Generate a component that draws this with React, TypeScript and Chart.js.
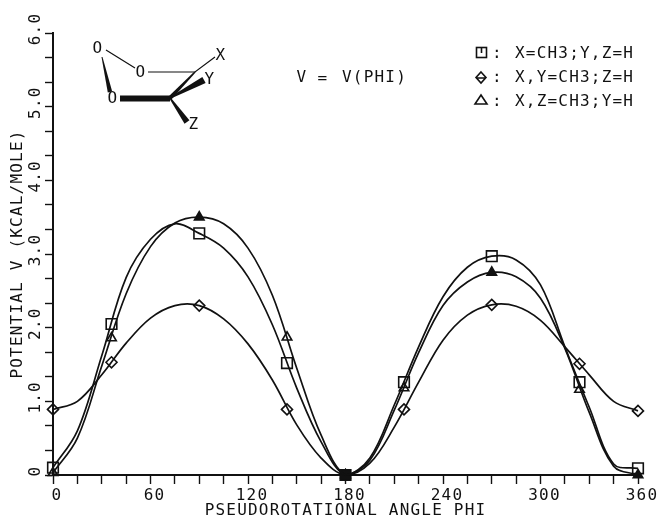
import React, { useEffect, useRef } from "react";
import { Chart, registerables } from "chart.js";

Chart.register(...registerables);

const curveAngles = [0, 15, 30, 45, 60, 75, 90, 105, 120, 135, 150, 165, 180, 195, 210, 225, 240, 255, 270, 285, 300, 315, 330, 345, 360];
const squareCurve = [0.1, 0.6, 1.62, 2.68, 3.2, 3.41, 3.28, 3.08, 2.69, 2.04, 1.18, 0.45, 0, 0.23, 0.95, 1.74, 2.42, 2.82, 2.97, 2.92, 2.58, 1.74, 0.92, 0.15, 0.09];
const diamondCurve = [0.89, 1.0, 1.36, 1.79, 2.13, 2.3, 2.3, 2.12, 1.78, 1.29, 0.68, 0.23, 0, 0.16, 0.65, 1.26, 1.83, 2.17, 2.31, 2.29, 2.1, 1.74, 1.36, 1.0, 0.87];
const triangleCurve = [0.03, 0.5, 1.48, 2.46, 3.1, 3.42, 3.5, 3.41, 3.08, 2.44, 1.45, 0.54, 0, 0.2, 0.88, 1.66, 2.3, 2.62, 2.75, 2.69, 2.4, 1.72, 0.85, 0.12, 0];

const markerAngles = [0, 36, 90, 144, 180, 216, 270, 324, 360];
const squareMarks = [0.1, 2.05, 3.28, 1.52, 0, 1.26, 2.97, 1.26, 0.09];
const diamondMarks = [0.89, 1.53, 2.3, 0.89, 0, 0.89, 2.31, 1.51, 0.87];
const triangleMarks = [0.03, 1.86, 3.5, 1.87, 0, 1.18, 2.75, 1.16, 0];

const xTicks = [0, 15, 30, 45, 60, 75, 90, 105, 120, 135, 150, 165, 180, 195, 210, 225, 240, 255, 270, 285, 300, 315, 330, 345, 360];
const xTickLabels: Record<number, string> = { 0: "0", 60: "60", 120: "120", 180: "180", 240: "240", 300: "300", 360: "360" };
const yTicks = [0, 0.3333, 0.6667, 1, 1.3333, 1.6667, 2, 2.3333, 2.6667, 3, 3.3333, 3.6667, 4, 4.3333, 4.6667, 5, 5.3333, 5.6667, 6];
const yTickLabels: Record<number, string> = { 0: "0", 1: "1.0", 2: "2.0", 3: "3.0", 4: "4.0", 5: "5.0", 6: "6.0" };

const xTitle = "PSEUDOROTATIONAL ANGLE PHI";
const yTitle = "POTENTIAL V (KCAL/MOLE)";
const equation = ["V", "=", "V(PHI)"];
const legendLabels = ["X=CH3;Y,Z=H", "X,Y=CH3;Z=H", "X,Z=CH3;Y=H"];
const atomLabels = ["O", "O", "O", "X", "Y", "Z"];

const FONT = '"DejaVu Sans Mono", "Liberation Mono", monospace';
const INK = "#111";

function pairs(xs: number[], ys: number[]) {
  return xs.map((x, i) => ({ x, y: ys[i] }));
}

function wedge(ctx: CanvasRenderingContext2D, x1: number, y1: number, x2: number, y2: number, w1: number, w2: number) {
  const dx = x2 - x1, dy = y2 - y1, len = Math.hypot(dx, dy);
  const nx = -dy / len, ny = dx / len;
  ctx.beginPath();
  ctx.moveTo(x1 + nx * w1 / 2, y1 + ny * w1 / 2);
  ctx.lineTo(x2 + nx * w2 / 2, y2 + ny * w2 / 2);
  ctx.lineTo(x2 - nx * w2 / 2, y2 - ny * w2 / 2);
  ctx.lineTo(x1 - nx * w1 / 2, y1 - ny * w1 / 2);
  ctx.closePath();
  ctx.fill();
}

const annotations = {
  id: "annotations",
  beforeDraw(chart: Chart) {
    (chart.ctx as any).letterSpacing = "1.2px";
  },
  afterDraw(chart: Chart) {
    const ctx = chart.ctx;
    ctx.save();
    ctx.fillStyle = INK;
    ctx.strokeStyle = INK;
    ctx.textAlign = "center";
    ctx.textBaseline = "middle";
    ctx.font = `16px ${FONT}`;

    // molecule sketch
    const atomPos = [[98, 49], [141, 73], [113, 99], [221, 56], [210, 80], [194, 125]];
    atomLabels.forEach((t, i) => ctx.fillText(t, atomPos[i][0], atomPos[i][1]));
    ctx.lineWidth = 1.2;
    ctx.beginPath();
    ctx.moveTo(106, 50); ctx.lineTo(135, 68);
    ctx.moveTo(148, 72); ctx.lineTo(195, 72);
    ctx.lineTo(215, 57);
    ctx.stroke();
    wedge(ctx, 102, 57, 110, 92, 1, 4.5);
    wedge(ctx, 120, 98.5, 170, 98.5, 6, 6);
    wedge(ctx, 195, 72, 170, 98, 1.5, 4);
    wedge(ctx, 170, 98, 204, 80, 1.5, 7);
    wedge(ctx, 170, 98, 187, 122, 1.5, 6);

    // equation
    ctx.fillText(equation[0], 302, 78);
    ctx.fillText(equation[1], 323, 79);
    ctx.textAlign = "left";
    ctx.fillText(equation[2], 342, 78);

    // legend
    const rows = [54, 78, 102];
    legendLabels.forEach((t, i) => {
      ctx.fillText(":", 492, rows[i]);
      ctx.fillText(t, 515, rows[i]);
    });
    ctx.lineWidth = 1.6;
    ctx.strokeRect(476.5, 47.5, 10, 10);
    ctx.beginPath();
    ctx.moveTo(481.5, 48); ctx.lineTo(481.5, 53);
    ctx.moveTo(481, 72); ctx.lineTo(486, 77.5); ctx.lineTo(481, 83); ctx.lineTo(476, 77.5); ctx.closePath();
    ctx.moveTo(481, 95); ctx.lineTo(487, 104); ctx.lineTo(475, 104); ctx.closePath();
    ctx.moveTo(477, 78); ctx.lineTo(485, 78);
    ctx.stroke();
    ctx.restore();
  },
};

export default function App() {
  const ref = useRef<HTMLCanvasElement | null>(null);
  useEffect(() => {
    document.body.style.margin = "0";
    const curve = (ys: number[]) => ({
      data: pairs(curveAngles, ys),
      showLine: true,
      borderColor: INK,
      borderWidth: 1.7,
      tension: 0.36,
      pointRadius: 0,
      clip: false,
    });
    const marks = (ys: number[], pointStyle: string, pointRadius: number, filled: number[]) => ({
      data: pairs(markerAngles, ys),
      showLine: false,
      pointStyle,
      pointRadius,
      pointBorderColor: INK,
      pointBorderWidth: 1.6,
      pointBackgroundColor: markerAngles.map((a) => (filled.includes(a) ? INK : "rgba(0,0,0,0)")),
      clip: false,
    });
    const chart = new Chart(ref.current!, {
      type: "scatter",
      data: {
        datasets: [
          curve(squareCurve),
          curve(diamondCurve),
          curve(triangleCurve),
          marks(squareMarks, "rect", 7.5, [180]),
          marks(diamondMarks, "rectRot", 5.5, [180]),
          marks(triangleMarks, "triangle", 5.5, [90, 180, 270, 360]),
        ] as any,
      },
      options: {
        animation: false,
        responsive: false,
        layout: { padding: { top: 33, right: 22, left: 0, bottom: 0 } },
        plugins: { legend: { display: false }, tooltip: { enabled: false }, title: { display: false } },
        scales: {
          x: {
            type: "linear",
            min: 0,
            max: 360,
            afterFit: (s: any) => { s.height = 42; },
            afterBuildTicks: (s: any) => { s.ticks = xTicks.map((value) => ({ value })); },
            grid: { drawOnChartArea: false, drawTicks: true, tickLength: 9, tickWidth: 1.4, tickColor: INK },
            border: { color: INK, width: 2 },
            ticks: {
              autoSkip: false,
              maxRotation: 0,
              minRotation: 0,
              padding: 2,
              labelOffset: 4,
              color: INK,
              font: { family: FONT, size: 16 },
              callback: (v: any) => xTickLabels[v] ?? "",
            },
            title: { display: true, text: xTitle, color: INK, font: { family: FONT, size: 16, lineHeight: 1 }, padding: { top: 0, bottom: -2 } },
          },
          y: {
            type: "linear",
            min: 0,
            max: 6,
            afterFit: (s: any) => { s.width = 53; },
            afterBuildTicks: (s: any) => { s.ticks = yTicks.map((value) => ({ value })); },
            grid: { drawOnChartArea: false, drawTicks: true, tickLength: 8, tickWidth: 1.4, tickColor: INK },
            border: { color: INK, width: 2 },
            ticks: {
              autoSkip: false,
              minRotation: 90,
              maxRotation: 90,
              crossAlign: "center",
              padding: -5,
              labelOffset: -4,
              color: INK,
              font: { family: FONT, size: 16 },
              callback: (v: any) => yTickLabels[v] ?? "",
            },
            title: { display: true, text: yTitle, color: INK, font: { family: FONT, size: 16, lineHeight: 1 }, padding: { top: 10, bottom: 0 } },
          },
        },
      },
      plugins: [annotations],
    } as any);
    return () => chart.destroy();
  }, []);
  return (
    <div style={{ width: 660, height: 517 }}>
      <canvas ref={ref} width={660} height={517} style={{ display: "block" }} />
    </div>
  );
}
